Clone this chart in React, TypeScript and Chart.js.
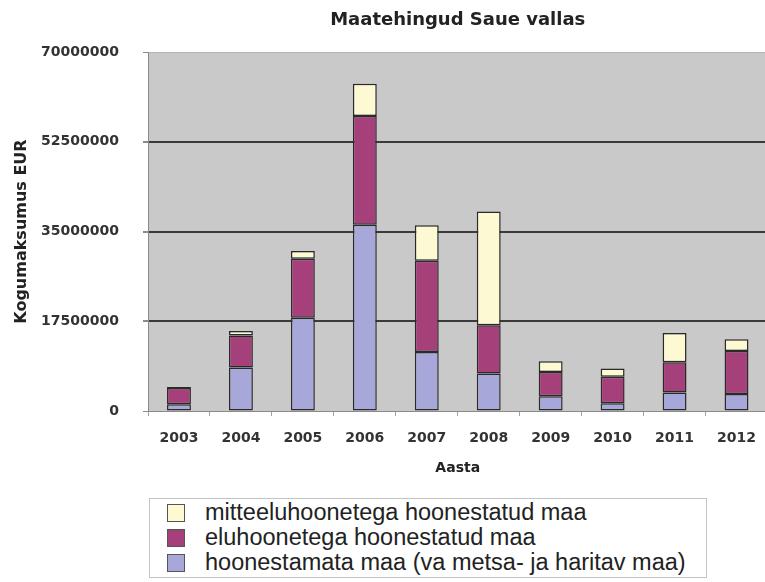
import React, { useEffect, useRef } from "react";
import { Chart, registerables } from "chart.js";

Chart.register(...registerables);

const chartTitle = "Maatehingud Saue vallas";
const xAxisTitle = "Aasta";
const yAxisTitle = "Kogumaksumus EUR";

const years = ["2003", "2004", "2005", "2006", "2007", "2008", "2009", "2010", "2011", "2012"];
const hoonestamataMaa = [1300000, 8500000, 18200000, 36300000, 11500000, 7300000, 2900000, 1500000, 3600000, 3300000];
const eluhoonetegaMaa = [3200000, 6200000, 11500000, 21200000, 17800000, 9400000, 4700000, 5200000, 5900000, 8400000];
const mitteeluhoonetegaMaa = [200000, 900000, 1500000, 6300000, 6900000, 22200000, 2100000, 1600000, 5700000, 2300000];
const yTickValues = [0, 17500000, 35000000, 52500000, 70000000];

const labelHoonestamata = "hoonestamata maa (va metsa- ja haritav maa)";
const labelElu = "eluhoonetega hoonestatud maa";
const labelMitteelu = "mitteeluhoonetega hoonestatud maa";

const COLOR_BLUE = "#a7a7da";
const COLOR_RED = "#a5407a";
const COLOR_YELLOW = "#fdf9d2";
const BORDER = "#2a2a2a";
const PLOT_BG = "#c9c9c9";

const legendItems = [
  { label: labelMitteelu, color: COLOR_YELLOW },
  { label: labelElu, color: COLOR_RED },
  { label: labelHoonestamata, color: COLOR_BLUE },
];

const TICK_FONT = { family: "'DejaVu Sans', Verdana, sans-serif", size: 14, weight: "bold" as const };

export default function App() {
  const canvasRef = useRef<HTMLCanvasElement | null>(null);

  useEffect(() => {
    if (!canvasRef.current) return;
    const plotBg = {
      id: "plotBg",
      beforeDraw(chart: any) {
        const { ctx, chartArea } = chart;
        ctx.save();
        ctx.fillStyle = PLOT_BG;
        ctx.fillRect(chartArea.left, chartArea.top, chartArea.right - chartArea.left, chartArea.bottom - chartArea.top);
        ctx.restore();
      },
    };
    const titlePlugin = {
      id: "centeredTitle",
      afterDraw(chart: any) {
        const { ctx, chartArea } = chart;
        ctx.save();
        ctx.font = "bold 18px 'DejaVu Sans', Verdana, sans-serif";
        ctx.fillStyle = "#222";
        ctx.textAlign = "center";
        ctx.textBaseline = "middle";
        ctx.fillText(chartTitle, (chartArea.left + chartArea.right) / 2, 20);
        ctx.restore();
      },
    };

    const barStyle = { borderColor: BORDER, borderWidth: 1.5, borderSkipped: false as const };

    const chart = new Chart(canvasRef.current, {
      type: "bar",
      data: {
        labels: years,
        datasets: [
          { label: labelHoonestamata, data: hoonestamataMaa, backgroundColor: COLOR_BLUE, ...barStyle },
          { label: labelElu, data: eluhoonetegaMaa, backgroundColor: COLOR_RED, ...barStyle },
          { label: labelMitteelu, data: mitteeluhoonetegaMaa, backgroundColor: COLOR_YELLOW, ...barStyle },
        ],
      },
      options: {
        responsive: false,
        animation: false,
        devicePixelRatio: 1,
        layout: { padding: { top: 52, left: 0, right: 0, bottom: 91 } },
        datasets: { bar: { barPercentage: 0.386, categoryPercentage: 1 } },
        plugins: {
          legend: { display: false },
          title: { display: false },
          tooltip: { enabled: false },
        },
        scales: {
          x: {
            stacked: true,
            offset: true,
            grid: { display: true, drawOnChartArea: false, drawTicks: true, tickLength: 5, color: "#a0a0a0", offset: true },
            border: { display: true, color: "#8a8a8a", width: 1 },
            ticks: { color: "#333", font: TICK_FONT, padding: 14, maxRotation: 0 },
            title: {
              display: true,
              text: xAxisTitle,
              color: "#222",
              font: TICK_FONT,
              padding: { top: 0, bottom: 14.6 },
            },
            afterFit(scale: any) {
              scale.height = 80;
            },
          },
          y: {
            stacked: true,
            min: 0,
            max: 70000000,
            afterBuildTicks(scale: any) {
              scale.ticks = yTickValues.map((v) => ({ value: v }));
            },
            grid: {
              drawTicks: true,
              tickLength: 5,
              tickColor: "#8a8a8a",
              color: (ctx: any) => {
                const v = ctx.tick ? ctx.tick.value : null;
                if (v === 0) return "#8a8a8a";
                if (v === 70000000) return "#b4b4b4";
                return "#3a3a3a";
              },
              lineWidth: (ctx: any) => {
                const v = ctx.tick ? ctx.tick.value : null;
                if (v === 0 || v === 70000000) return 1;
                return 2;
              },
            },
            border: { display: true, color: "#8a8a8a", width: 1 },
            ticks: {
              color: "#333",
              font: TICK_FONT,
              padding: 24,
              callback: (v: any) => String(v),
            },
            title: {
              display: true,
              text: yAxisTitle,
              color: "#222",
              font: { family: "'DejaVu Sans', Verdana, sans-serif", size: 16, weight: "bold" },
              padding: { top: 12, bottom: 0 },
            },
            afterFit(scale: any) {
              scale.width = 148;
            },
          },
        },
      },
      plugins: [plotBg, titlePlugin],
    });
    return () => chart.destroy();
  }, []);

  return (
    <div style={{ position: "fixed", left: 0, top: 0, width: 765, height: 582, overflow: "hidden", background: "#fff" }}>
      <canvas ref={canvasRef} width={770} height={582} style={{ position: "absolute", left: 0, top: 0, width: 770, height: 582 }} />
      <div
        style={{
          position: "absolute",
          left: 149,
          top: 498,
          width: 558,
          height: 80,
          border: "1px solid #c4c4c4",
          boxSizing: "border-box",
          background: "#fff",
        }}
      >
        {legendItems.map((item, i) => (
          <div
            key={item.label}
            style={{
              position: "absolute",
              left: 0,
              top: 1 + i * 25,
              height: 25,
              display: "flex",
              alignItems: "center",
              whiteSpace: "nowrap",
            }}
          >
            <span
              style={{
                display: "inline-block",
                width: 16,
                height: 16,
                marginLeft: 17,
                background: item.color,
                border: "1px solid #555",
              }}
            />
            <span
              style={{
                marginLeft: 20,
                fontFamily: "'Liberation Sans', Arial, sans-serif",
                fontSize: 23.5,
                color: "#222",
                lineHeight: "25px",
              }}
            >
              {item.label}
            </span>
          </div>
        ))}
      </div>
    </div>
  );
}
